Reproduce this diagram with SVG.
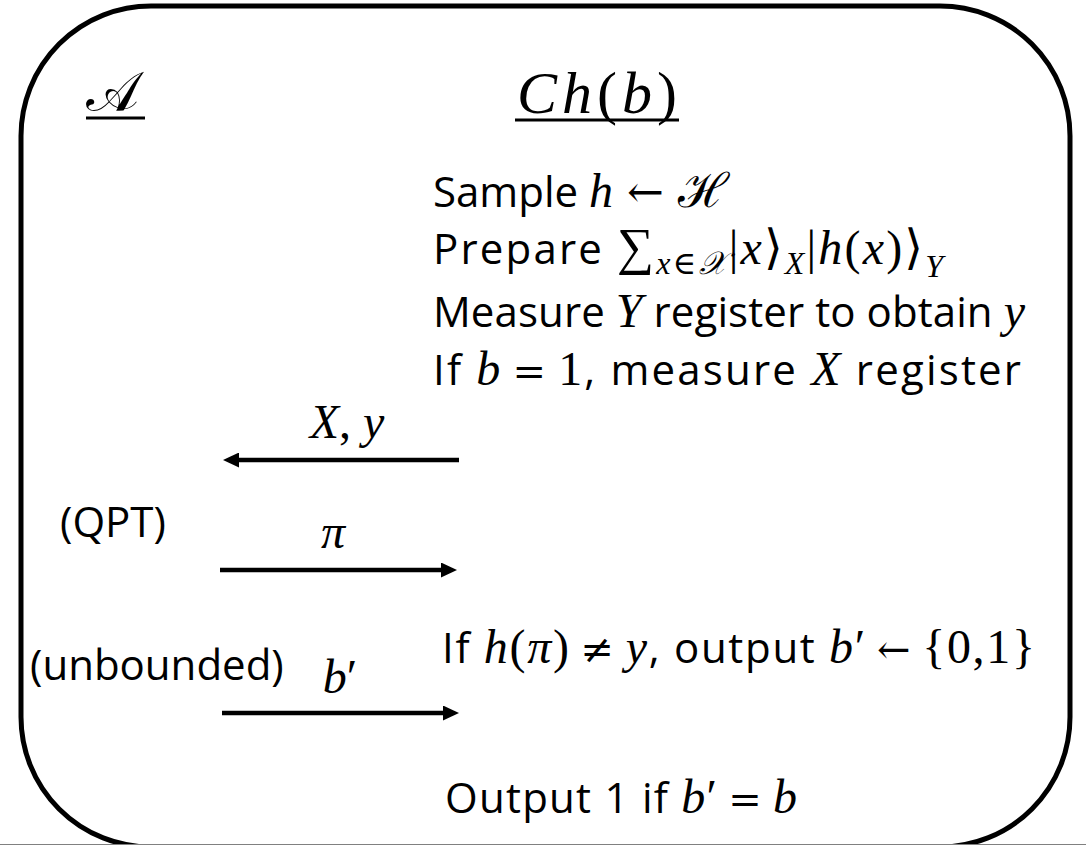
<svg xmlns="http://www.w3.org/2000/svg" width="1086" height="845" viewBox="0 0 1086 845">
<style>
.t{font-family:"Open Sans","Noto Sans","DejaVu Sans",sans-serif;font-size:42px;fill:#000}
.m{font-family:"Liberation Serif","DejaVu Serif",serif;font-style:italic;font-size:48px}
.mu{font-family:"Liberation Serif","DejaVu Serif",serif;font-style:normal;font-size:48px}
.op{font-family:"DejaVu Serif","Liberation Serif",serif;font-style:normal;font-size:40px}
.sub{font-size:32px}
.ul{stroke:#000;stroke-width:3}
.arrow{stroke:#000;stroke-width:4.5;fill:none;marker-end:url(#head)}
</style>
<defs>
<marker id="head" markerUnits="userSpaceOnUse" markerWidth="16" markerHeight="15" refX="0" refY="7.5" orient="auto" viewBox="0 0 16 15">
<path d="M0,0 L16,7.5 L0,15 Z" fill="#000"/>
</marker>
</defs>
<rect x="0" y="0" width="1086" height="845" fill="#fff"/>
<rect id="frame" x="21" y="6" width="1049" height="841" rx="130" ry="130" fill="none" stroke="#000" stroke-width="5"/>
<line x1="0" y1="844.5" x2="1086" y2="844.5" stroke="#808080" stroke-width="1"/>

<g id="adversary">
<text x="86" y="111" class="mu" style="font-size:56px">𝒜</text>
<line class="ul" x1="86" y1="118" x2="145" y2="118"/>
<text x="60" y="537" class="t">(QPT)</text>
<text x="30" y="680" class="t">(unbounded)</text>
</g>

<g id="challenger">
<text x="517" y="113" class="m" style="font-size:60px" textLength="160" lengthAdjust="spacing">Ch<tspan class="mu" style="font-size:60px">(</tspan>b<tspan class="mu" style="font-size:60px">)</tspan></text>
<line class="ul" x1="515" y1="120" x2="679" y2="120"/>
<text x="433" y="207" class="t">Sample <tspan class="m">h</tspan><tspan class="op" style="font-size:44px"> ← </tspan><tspan class="mu">ℋ</tspan></text>
<text x="433" y="264" class="t" textLength="510" lengthAdjust="spacing">Prepare <tspan class="mu" style="font-size:52px">∑</tspan><tspan class="m sub" y="274">x</tspan><tspan class="mu sub" y="274">∈</tspan><tspan class="m sub" y="274">𝒳</tspan><tspan class="mu" y="264">|</tspan><tspan class="m" y="264">x</tspan><tspan class="mu" y="264">⟩</tspan><tspan class="m sub" y="274">X</tspan><tspan class="mu" y="264">|</tspan><tspan class="m" y="264">h</tspan><tspan class="mu" y="264">(</tspan><tspan class="m" y="264">x</tspan><tspan class="mu" y="264">)⟩</tspan><tspan class="m sub" y="277">Y</tspan></text>
<text x="433" y="327" class="t" textLength="592" lengthAdjust="spacing">Measure <tspan class="m">Y</tspan> register to obtain <tspan class="m">y</tspan></text>
<text x="433" y="385" class="t" textLength="588" lengthAdjust="spacing">If <tspan class="m">b</tspan><tspan class="op" dx="10">=</tspan><tspan class="mu" dx="10">1</tspan>, measure <tspan class="m">X</tspan> register</text>
<text x="442" y="663" class="t" textLength="593" lengthAdjust="spacing">If <tspan class="m">h</tspan><tspan class="mu">(</tspan><tspan class="m">π</tspan><tspan class="mu">)</tspan><tspan class="op" dx="10">≠</tspan><tspan class="m" dx="10">y</tspan>, output <tspan class="m">b</tspan><tspan class="mu">′</tspan><tspan class="op" dx="10">←</tspan><tspan class="mu" dx="10">{0,1}</tspan></text>
<text x="445" y="813" class="t" textLength="352" lengthAdjust="spacing">Output 1 if <tspan class="m">b</tspan><tspan class="mu">′</tspan><tspan class="op" dx="10">=</tspan><tspan class="m" dx="10">b</tspan></text>
</g>

<g id="connectors">
<line class="arrow" x1="459" y1="460" x2="239" y2="460"/>
<text x="347" y="438" class="m" text-anchor="middle">X<tspan class="mu">, </tspan>y</text>
<line class="arrow" x1="220" y1="570" x2="441" y2="570"/>
<text x="333" y="548" class="m" text-anchor="middle">π</text>
<line class="arrow" x1="222" y1="713" x2="443" y2="713"/>
<text x="340" y="693" class="m" text-anchor="middle">b<tspan class="mu">′</tspan></text>
</g>
</svg>
